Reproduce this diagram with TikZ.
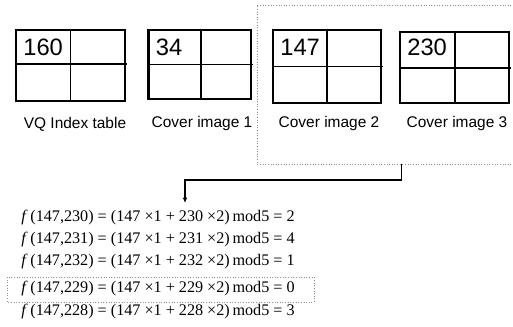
\documentclass[tikz,border=0pt]{standalone}
\usepackage{fontspec}
\setmainfont{Liberation Serif}
\setsansfont{Liberation Sans}
\usetikzlibrary{arrows.meta}
\definecolor{dotGray}{RGB}{140,140,140}

\tikzset{
  outerbox/.style={line width=1.5pt},
  innerline/.style={line width=0.6pt},
  cellnum/.style={anchor=west, inner sep=0pt, font=\sffamily\fontsize{13.5}{15}\selectfont},
  gridlabel/.style={inner sep=0pt, font=\sffamily\fontsize{8.8}{10}\selectfont},
  eqline/.style={anchor=west, inner sep=0pt, font=\fontsize{9.2}{10}\selectfont},
  selbox/.style={dotGray, densely dotted, line width=0.5pt}
}

\begin{document}
\begin{tikzpicture}[x=0.02cm, y=-0.02cm]
  \useasboundingbox (0,0) rectangle (513,327);

  % the four 2x2 blocks
  \foreach \l/\r/\t/\b/\v/\h/\num/\nm in {16/125/30/101/70.7/64/160/vq,
      148.5/251/30/99/201/64.3/34/cov1,
      273/381/30/103/327/66.7/147/cov2,
      400/509/32/103/455/68/230/cov3}{
    \draw[innerline] (\v,\t) -- (\v,\b+1.5);
    \draw[innerline] (\l,\h) -- (\r+1.5,\h);
    \draw[outerbox] (\l,\t) rectangle (\r,\b);
    \node[cellnum] (\nm-num) at (\l+7,47) {\num};
  }

  \node[gridlabel] (vq-lab) at (75,124) {VQ Index table};
  \node[gridlabel] (cov1-lab) at (202,124) {Cover image 1};
  \node[gridlabel] (cov2-lab) at (329,124) {Cover image 2};
  \node[gridlabel] (cov3-lab) at (457,124) {Cover image 3};

  % selected pair
  \draw[selbox] (514,5) -- (257,5) -- (257,164) -- (514,164);

  % candidate values
  \foreach \k/\y/\res [count=\i] in {230/218/2, 231/240/4, 232/262/1, 229/289/0, 228/312/3}{
    \node[eqline] (eq\i) at (21,\y)
      {\textit{f}\,(147,\k) = (147 ×1 + \k\ ×2)\,mod5 = \res};
  }
  \draw[selbox] (7,277) rectangle (314,302);

  \coordinate (sel) at (401.7,164);
  \coordinate (hit) at (185,203);
  \draw[line width=0.6pt, -{Latex[length=3pt,width=2.6pt]}] (sel) -- ++(0,16) -| (hit);
\end{tikzpicture}
\end{document}
